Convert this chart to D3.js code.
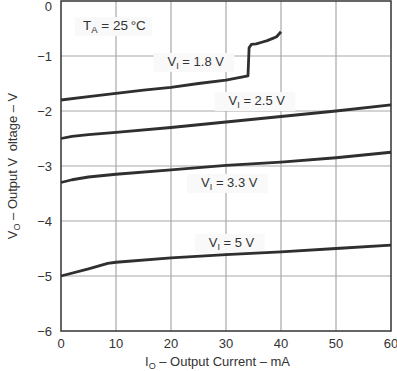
<!DOCTYPE html>
<html>
<head>
<meta charset="utf-8">
<script src="https://cdn.jsdelivr.net/npm/d3@7/dist/d3.min.js"></script>
<style>
  body { margin: 0; background: #fff; }
  text { font-family: "Liberation Sans", Arial, Helvetica, sans-serif; fill: #333; }
</style>
</head>
<body>
<script>
// Output current (mA) and output voltage (V)
const current18 = [0, 5, 10, 15, 20, 25, 30, 34, 34.2, 34.6, 35.5, 36.5, 37.5, 38.5, 39.2, 40];
const vout18 = [-1.8, -1.74, -1.68, -1.62, -1.57, -1.5, -1.44, -1.36, -0.85, -0.79, -0.78, -0.75, -0.72, -0.68, -0.65, -0.56];

const current25 = [0, 2, 5, 10, 20, 30, 40, 50, 60];
const vout25 = [-2.5, -2.46, -2.43, -2.39, -2.3, -2.2, -2.1, -2.0, -1.89];

const current33 = [0, 2, 5, 10, 20, 30, 40, 50, 60];
const vout33 = [-3.3, -3.25, -3.2, -3.15, -3.07, -2.99, -2.93, -2.85, -2.75];

const current5 = [0, 5, 8.5, 10, 20, 30, 40, 50, 60];
const vout5 = [-5.0, -4.87, -4.77, -4.75, -4.67, -4.61, -4.56, -4.5, -4.44];

const xTicks = [0, 10, 20, 30, 40, 50, 60];
const yTicks = [0, -1, -2, -3, -4, -5, -6];

const curves = [
  { x: current18, y: vout18 },
  { x: current25, y: vout25 },
  { x: current33, y: vout33 },
  { x: current5, y: vout5 }
];

// curve labels: text, centre and baseline in data units
const labels = [
  { v: "1.8 V", cx: 24.5, cy: -1.18 },
  { v: "2.5 V", cx: 35.6, cy: -1.89 },
  { v: "3.3 V", cx: 30.6, cy: -3.38 },
  { v: "5 V", cx: 31, cy: -4.47 }
];

const margin = { top: 1, left: 61, right: 6, bottom: 40 };
const width = 397 - margin.left - margin.right;
const height = 371 - margin.top - margin.bottom;

const svg = d3.select("body").append("svg")
  .attr("width", 397)
  .attr("height", 371);

const g = svg.append("g")
  .attr("transform", `translate(${margin.left},${margin.top})`);

const x = d3.scaleLinear().domain([0, 60]).range([0, width]);
const y = d3.scaleLinear().domain([-6, 0]).range([height, 0]);

// grid
g.append("g").selectAll("line").data(xTicks.slice(1, -1)).join("line")
  .attr("x1", d => x(d)).attr("x2", d => x(d))
  .attr("y1", 0).attr("y2", height)
  .attr("stroke", "#a8a8a8").attr("stroke-width", 1.2);
g.append("g").selectAll("line").data(yTicks.slice(1, -1)).join("line")
  .attr("x1", 0).attr("x2", width)
  .attr("y1", d => y(d)).attr("y2", d => y(d))
  .attr("stroke", "#a8a8a8").attr("stroke-width", 1.2);

// frame
g.append("rect")
  .attr("x", 0).attr("y", 0)
  .attr("width", width).attr("height", height)
  .attr("fill", "none").attr("stroke", "#333").attr("stroke-width", 1.5);

// tick labels
g.append("g").selectAll("text").data(xTicks).join("text")
  .attr("x", d => x(d)).attr("y", height + 17)
  .attr("text-anchor", "middle")
  .attr("font-size", 13)
  .text(d => d);
g.append("g").selectAll("text").data(yTicks).join("text")
  .attr("x", -9).attr("y", d => d === 0 ? 10 : y(d) + 4.5)
  .attr("text-anchor", "end")
  .attr("font-size", 13)
  .text(d => d === 0 ? "0" : "\u2212" + Math.abs(d));

// label boxes (drawn before lines so curves sit on top)
const lab = g.append("g");
labels.forEach(l => {
  const t = lab.append("text")
    .attr("x", x(l.cx)).attr("y", y(l.cy))
    .attr("text-anchor", "middle")
    .attr("font-size", 13);
  t.append("tspan").text("V");
  t.append("tspan").attr("font-size", 9).attr("dy", 3).text("I");
  t.append("tspan").attr("dy", -3).text(" = " + l.v);
  const b = t.node().getBBox();
  lab.insert("rect", "text")
    .attr("x", b.x - 14).attr("y", b.y - 1)
    .attr("width", b.width + 24).attr("height", b.height + 2)
    .attr("fill", "#f9f9f9");
});

// T_A label
const ta = lab.append("text")
  .attr("x", x(4)).attr("y", y(-0.53))
  .attr("font-size", 13.5);
ta.append("tspan").text("T");
ta.append("tspan").attr("font-size", 9.5).attr("dy", 3).text("A");
ta.append("tspan").attr("dy", -3).text(" = 25\u2009\u00b0C");
const tb = ta.node().getBBox();
lab.insert("rect", "text")
  .attr("x", tb.x - 8).attr("y", tb.y - 1)
  .attr("width", tb.width + 14).attr("height", tb.height + 2)
  .attr("fill", "#f9f9f9");

// curves
const line = d3.line()
  .x(d => x(d[0]))
  .y(d => y(d[1]));
g.append("g").selectAll("path").data(curves).join("path")
  .attr("d", c => line(c.x.map((v, i) => [v, c.y[i]])))
  .attr("fill", "none")
  .attr("stroke", "#2f2f2f")
  .attr("stroke-width", 2.8)
  .attr("stroke-linejoin", "round");

// axis titles
const xt = svg.append("text")
  .attr("x", 145).attr("y", 366)
  .attr("font-size", 13);
xt.append("tspan").text("I");
xt.append("tspan").attr("font-size", 9).attr("dy", 3).text("O");
xt.append("tspan").attr("dy", -3).text(" \u2013 Output Current \u2013 mA");

const yt = svg.append("text")
  .attr("transform", `translate(17,${margin.top + height / 2}) rotate(-90)`)
  .attr("text-anchor", "middle")
  .attr("font-size", 13);
yt.append("tspan").text("V");
yt.append("tspan").attr("font-size", 9).attr("dy", 3).text("O");
yt.append("tspan").attr("dy", -3).text(" \u2013 Output V\u2002oltage \u2013 V");
</script>
</body>
</html>
